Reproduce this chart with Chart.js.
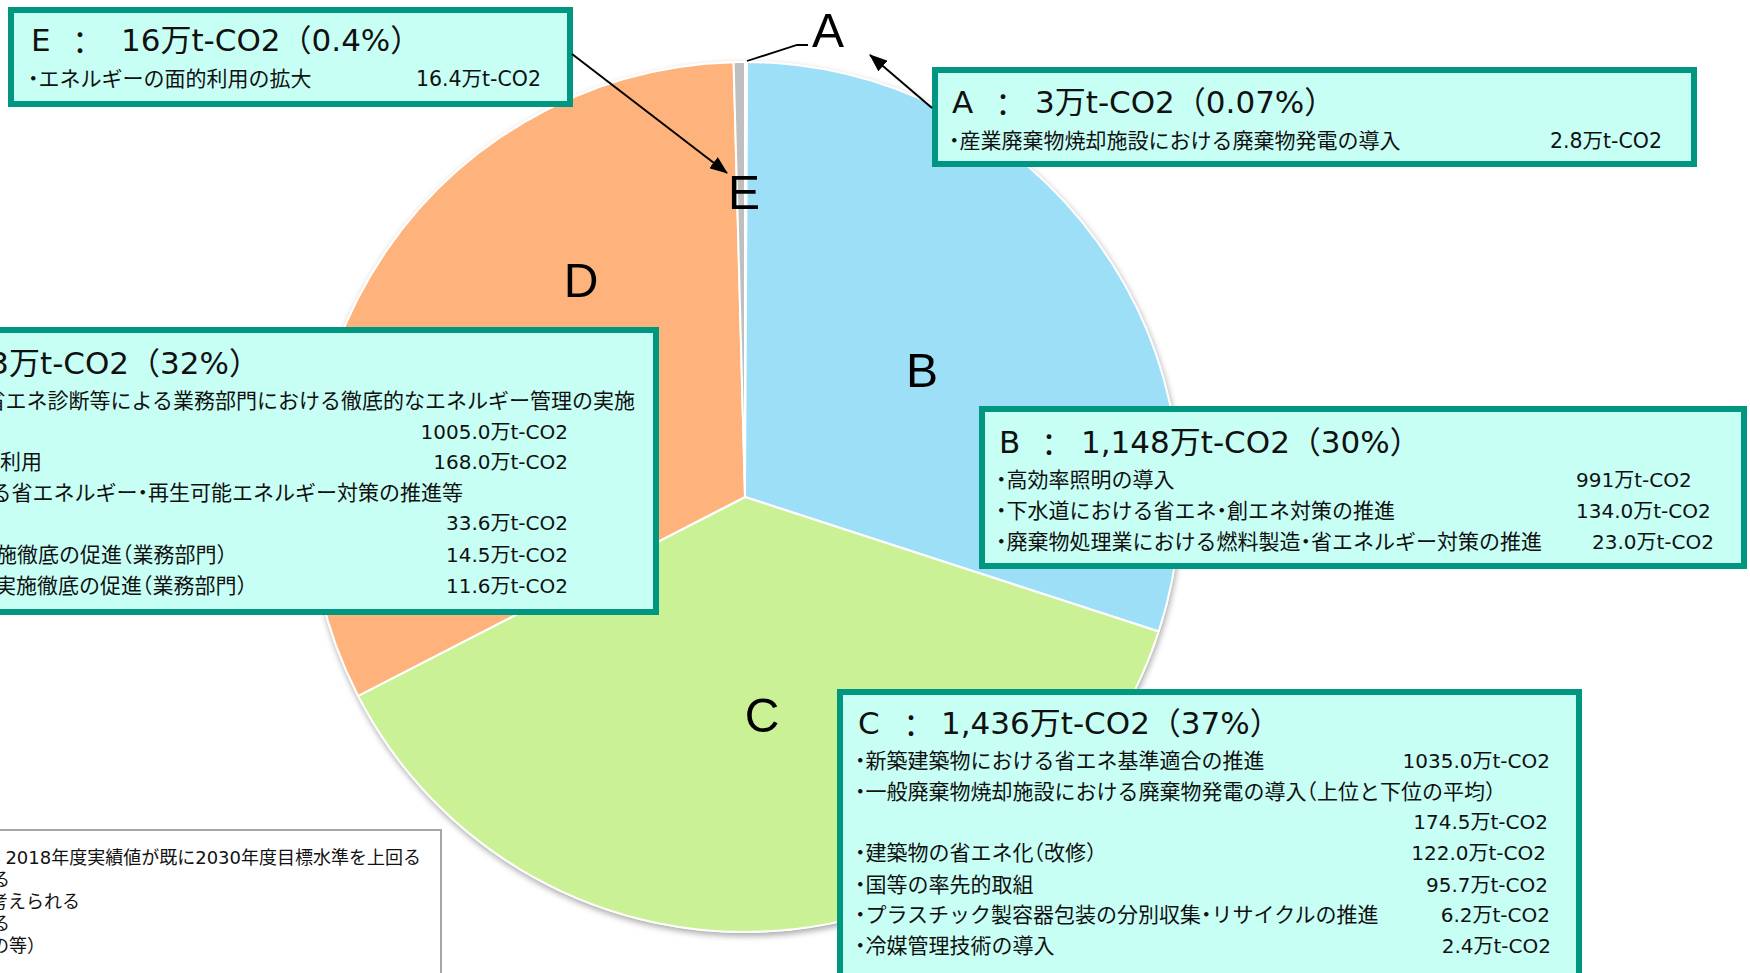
<!DOCTYPE html>
<html lang="ja">
<head>
<meta charset="utf-8">
<script src="https://cdn.jsdelivr.net/npm/chart.js@4.4.1/dist/chart.umd.min.js"></script>
<style>
  html, body { margin: 0; padding: 0; background: #fff; overflow: hidden; }
  #page { position: relative; width: 1750px; height: 973px; overflow: hidden; }
  #pie { position: absolute; left: 0; top: 0; }
  .box  { position: absolute; box-sizing: border-box; background: #C8FFF5; border: 6px solid #00967F; }
  .note { position: absolute; box-sizing: border-box; background: #fff; border: 2px solid #A6A6A6; }
  .t { position: absolute; white-space: nowrap; line-height: 1; color: #111;
       font-family: "DejaVu Sans", "Noto Sans CJK JP", sans-serif; }
  .item { font-feature-settings: "halt"; }
  .cjk { font-family: "Noto Sans CJK JP", sans-serif; }
  .lbl { position: absolute; line-height: 1; color: #000; font-size: 48px;
         font-family: "Liberation Sans Narrow", "Liberation Sans", sans-serif;
         transform: translate(-50%, -50%); }
  svg { position: absolute; left: 0; top: 0; pointer-events: none; }
</style>
</head>
<body>
<div id="page">
  <canvas id="pie" width="1750" height="973"></canvas>
</div>
<script>
// ===== DATA =====
const categories = ["A", "B", "C", "D", "E"]
const reductions = [3, 1148, 1436, 1233, 16]          // 万t-CO2
const shares     = ["0.07%", "30%", "37%", "32%", "0.4%"]

const page = document.getElementById("page")

// ===== PIE =====
const pieShadow = {
  id: "pieShadow",
  beforeDatasetsDraw(chart) {
    const arc = chart.getDatasetMeta(0).data[0]
    if (!arc) return
    const ctx = chart.ctx
    ctx.save()
    ctx.shadowColor = "rgba(0,0,0,0.35)"
    ctx.shadowBlur = 6
    ctx.shadowOffsetX = 1
    ctx.shadowOffsetY = 3
    ctx.fillStyle = "#fff"
    ctx.beginPath()
    ctx.arc(arc.x, arc.y, arc.outerRadius + 1, 0, Math.PI * 2)
    ctx.fill()
    ctx.restore()
  }
}

new Chart(document.getElementById("pie"), {
  type: "pie",
  data: {
    labels: categories,
    datasets: [{
      data: reductions,
      backgroundColor: ["#FFFFFF", "#9DDFF7", "#CBF196", "#FDB37B", "#BFBFBF"],
      borderColor: "#fff",
      borderWidth: 2,
      radius: 435
    }]
  },
  options: {
    responsive: false,
    animation: false,
    layout: { padding: { left: 0, right: 260, top: 21, bottom: 0 } },
    plugins: { legend: { display: false }, tooltip: { enabled: false } }
  },
  plugins: [pieShadow]
})

// ===== HELPERS =====
function addBox(cls, left, top, right, bottom) {
  const el = document.createElement("div")
  el.className = cls
  el.style.left = left + "px"
  el.style.top = top + "px"
  el.style.width = (right - left) + "px"
  el.style.height = (bottom - top) + "px"
  page.appendChild(el)
}

function addText(text, x, cy, size, cls, align) {
  const el = document.createElement("div")
  el.className = "t " + (cls || "")
  el.textContent = text
  el.style.fontSize = size + "px"
  el.style.left = x + "px"
  el.style.top = (cy - size / 2) + "px"
  if (align === "right") el.style.transform = "translateX(-100%)"
  page.appendChild(el)
  return el
}

function fmt(v) { return v.toLocaleString("en-US") }

function titleText(i) { return `${fmt(reductions[i])}万t-CO2（${shares[i]}）` }

function addTitle(i, letterX, colonX, valueX, cy) {
  addText(categories[i], letterX, cy, 31)
  addText("：", colonX - 15.5, cy, 31, "cjk")
  addText(titleText(i), valueX, cy, 31)
}

function addLabel(text, x, y) {
  const el = document.createElement("div")
  el.className = "lbl"
  el.textContent = text
  el.style.left = x + "px"
  el.style.top = y + "px"
  page.appendChild(el)
}

// ===== BOXES =====
addBox("box", 8, 7, 573, 107)        // E
addBox("box", 932, 67, 1697, 167)    // A
addBox("box", 979, 406, 1747, 569)   // B
addBox("box", 837, 689, 1582, 1000)  // C
addBox("box", -300, 327, 659, 615)   // D
addBox("note", -300, 829, 442, 1000)

// E
addTitle(4, 31, 80, 121, 40)
addText("・エネルギーの面的利用の拡大", 28, 79, 21, "item")
addText("16.4万t-CO2", 541, 79, 20.5, "item", "right")

// A
addTitle(0, 952, 1003, 1035, 102)
addText("・産業廃棄物焼却施設における廃棄物発電の導入", 949, 141, 21, "item")
addText("2.8万t-CO2", 1662, 141, 20.5, "item", "right")

// B
addTitle(1, 999, 1049, 1081, 442)
addText("・高効率照明の導入", 996, 480, 21, "item")
addText("991万t-CO2", 1576, 480, 20, "item")
addText("・下水道における省エネ・創エネ対策の推進", 996, 511, 21, "item")
addText("134.0万t-CO2", 1576, 511, 20, "item")
addText("・廃棄物処理業における燃料製造・省エネルギー対策の推進", 996, 542, 21, "item")
addText("23.0万t-CO2", 1592, 542, 20, "item")

// C
addTitle(2, 858, 911, 941, 723)
addText("・新築建築物における省エネ基準適合の推進", 855, 761, 21, "item")
addText("1035.0万t-CO2", 1550, 761, 20, "item", "right")
addText("・一般廃棄物焼却施設における廃棄物発電の導入（上位と下位の平均）", 855, 792, 21, "item")
addText("174.5万t-CO2", 1548, 822, 20, "item", "right")
addText("・建築物の省エネ化（改修）", 855, 853, 21, "item")
addText("122.0万t-CO2", 1546, 853, 20, "item", "right")
addText("・国等の率先的取組", 855, 885, 21, "item")
addText("95.7万t-CO2", 1548, 885, 20, "item", "right")
addText("・プラスチック製容器包装の分別収集・リサイクルの推進", 855, 915, 21, "item")
addText("6.2万t-CO2", 1550, 915, 20, "item", "right")
addText("・冷媒管理技術の導入", 855, 946, 21, "item")
addText("2.4万t-CO2", 1551, 946, 20, "item", "right")

// D (box runs off the left edge)
const dVal = addText(titleText(3), 260, 363, 31, "", "right")
const dLeft = 260 - dVal.getBoundingClientRect().width
addText(categories[3], dLeft - 90, 363, 31)
addText("：", dLeft - 41 - 15.5, 363, 31, "cjk")
addText("・BEMSの活用、省エネ診断等による業務部門における徹底的なエネルギー管理の実施", 635, 401, 21, "item", "right")
addText("1005.0万t-CO2", 568, 432, 20, "item", "right")
addText("・再生可能エネルギー熱の利用", 42, 462, 21, "item", "right")
addText("168.0万t-CO2", 568, 462, 20, "item", "right")
addText("・水道事業における省エネルギー・再生可能エネルギー対策の推進等", 463, 493, 21, "item", "right")
addText("33.6万t-CO2", 568, 523, 20, "item", "right")
addText("・クールビズの実施徹底の促進（業務部門）", 227, 555, 21, "item", "right")
addText("14.5万t-CO2", 568, 555, 20, "item", "right")
addText("・ウォームビズの実施徹底の促進（業務部門）", 247, 586, 21, "item", "right")
addText("11.6万t-CO2", 568, 586, 20, "item", "right")

// notes (box runs off the left edge)
addText("※A：　2018年度実績値が既に2030年度目標水準を上回る", 421, 858, 18, "", "right")
addText("　　　対策であり、引き続き削減が見込まれる", 10, 880, 18, "", "right")
addText("※B：　2030年度目標水準の達成が可能と考えられる", 80, 902, 18, "", "right")
addText("※C：　目標水準の達成には追加的な取組が必要である", 10, 924, 18, "", "right")
addText("　　　（省エネ基準適合、率先的取組の等）", 36, 946, 18, "item", "right")

// ===== SLICE LETTERS =====
addLabel("A", 828, 31)
addLabel("B", 922, 371)
addLabel("C", 762, 716)
addLabel("D", 581, 281)
addLabel("E", 744, 193)

// ===== LEADERS / ARROWS =====
page.insertAdjacentHTML("beforeend", `
<svg width="1750" height="973" viewBox="0 0 1750 973">
  <defs>
    <marker id="ah" viewBox="0 0 18 14" refX="17" refY="7" markerWidth="18" markerHeight="14"
            markerUnits="userSpaceOnUse" orient="auto">
      <path d="M0,0 L18,7 L0,14 z" fill="#000"/>
    </marker>
  </defs>
  <polyline points="747,61 797,45 808,45" fill="none" stroke="#000" stroke-width="1.8"/>
  <line x1="932" y1="108" x2="870" y2="55" stroke="#000" stroke-width="2" marker-end="url(#ah)"/>
  <line x1="572" y1="54" x2="727" y2="173" stroke="#000" stroke-width="2" marker-end="url(#ah)"/>
</svg>`)
</script>
</body>
</html>
